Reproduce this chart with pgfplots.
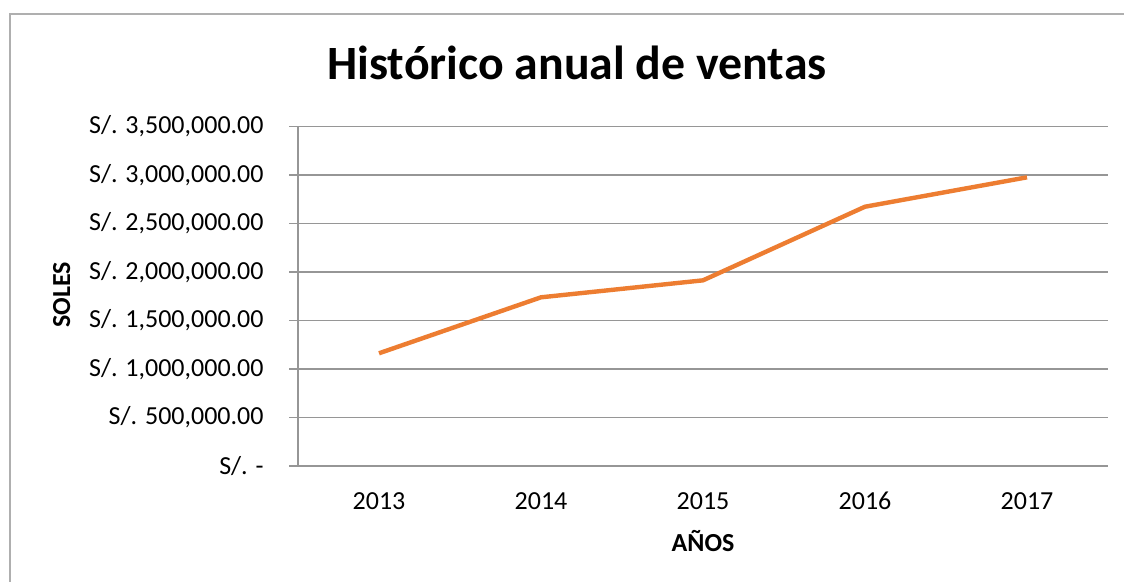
\documentclass[border=0pt]{standalone}
\usepackage{fontspec}
\setmainfont{Carlito}
\usepackage{pgfplots}
\pgfplotsset{compat=1.18}
\definecolor{lineor}{RGB}{237,125,49}
\definecolor{gridc}{RGB}{150,150,150}
\definecolor{framec}{RGB}{175,175,175}
\begin{document}
\begin{tikzpicture}
\useasboundingbox (0,0) rectangle (562pt,291pt);
\fill[white] (0,0) rectangle (562pt,291pt);
\draw[framec, line width=0.8pt] (5pt,-3pt) -- (5pt,284pt) -- (566pt,284pt);
\begin{axis}[
  at={(149pt,58pt)}, anchor=south west,
  scale only axis, width=405pt, height=169.75pt,
  xmin=-0.5, xmax=4.5, ymin=0, ymax=3500000,
  xtick={0,1,2,3,4},
  xticklabels={2013,2014,2015,2016,2017},
  ytick={0,500000,1000000,1500000,2000000,2500000,3000000,3500000},
  yticklabels={{S/. -},{S/. 500,000.00},{S/. 1,000,000.00},{S/. 1,500,000.00},{S/. 2,000,000.00},{S/. 2,500,000.00},{S/. 3,000,000.00},{S/. 3,500,000.00}},
  scaled ticks=false,
  axis x line=bottom, axis y line=left,
  axis line style={-, gridc, line width=0.7pt},
  ymajorgrids, grid style={gridc, line width=0.7pt},
  tick align=outside, major tick length=4.5pt,
  ytick style={gridc, line width=0.7pt},
  xtick style={draw=none},
  ticklabel style={font=\fontsize{13}{15}\selectfont, text=black},
  yticklabel style={anchor=east, inner sep=0pt, xshift=-12.5pt},
  xticklabel style={anchor=base, inner sep=0pt, yshift=-17.5pt},
  clip=false,
]
\addplot[lineor, line width=2.2pt, line join=round] coordinates {(0,1162000) (1,1739000) (2,1914000) (3,2673000) (4,2976000)};
\end{axis}
\node[anchor=base, inner sep=0pt, font=\bfseries\fontsize{23.9}{27}\selectfont] at (288.5pt,251pt) {Histórico anual de ventas};
\node[anchor=base, inner sep=0pt, font=\bfseries\fontsize{13}{15}\selectfont] at (351.5pt,15pt) {AÑOS};
\node[anchor=base, inner sep=0pt, rotate=90, font=\bfseries\fontsize{13}{15}\selectfont] at (35pt,143.5pt) {SOLES};
\end{tikzpicture}
\end{document}
